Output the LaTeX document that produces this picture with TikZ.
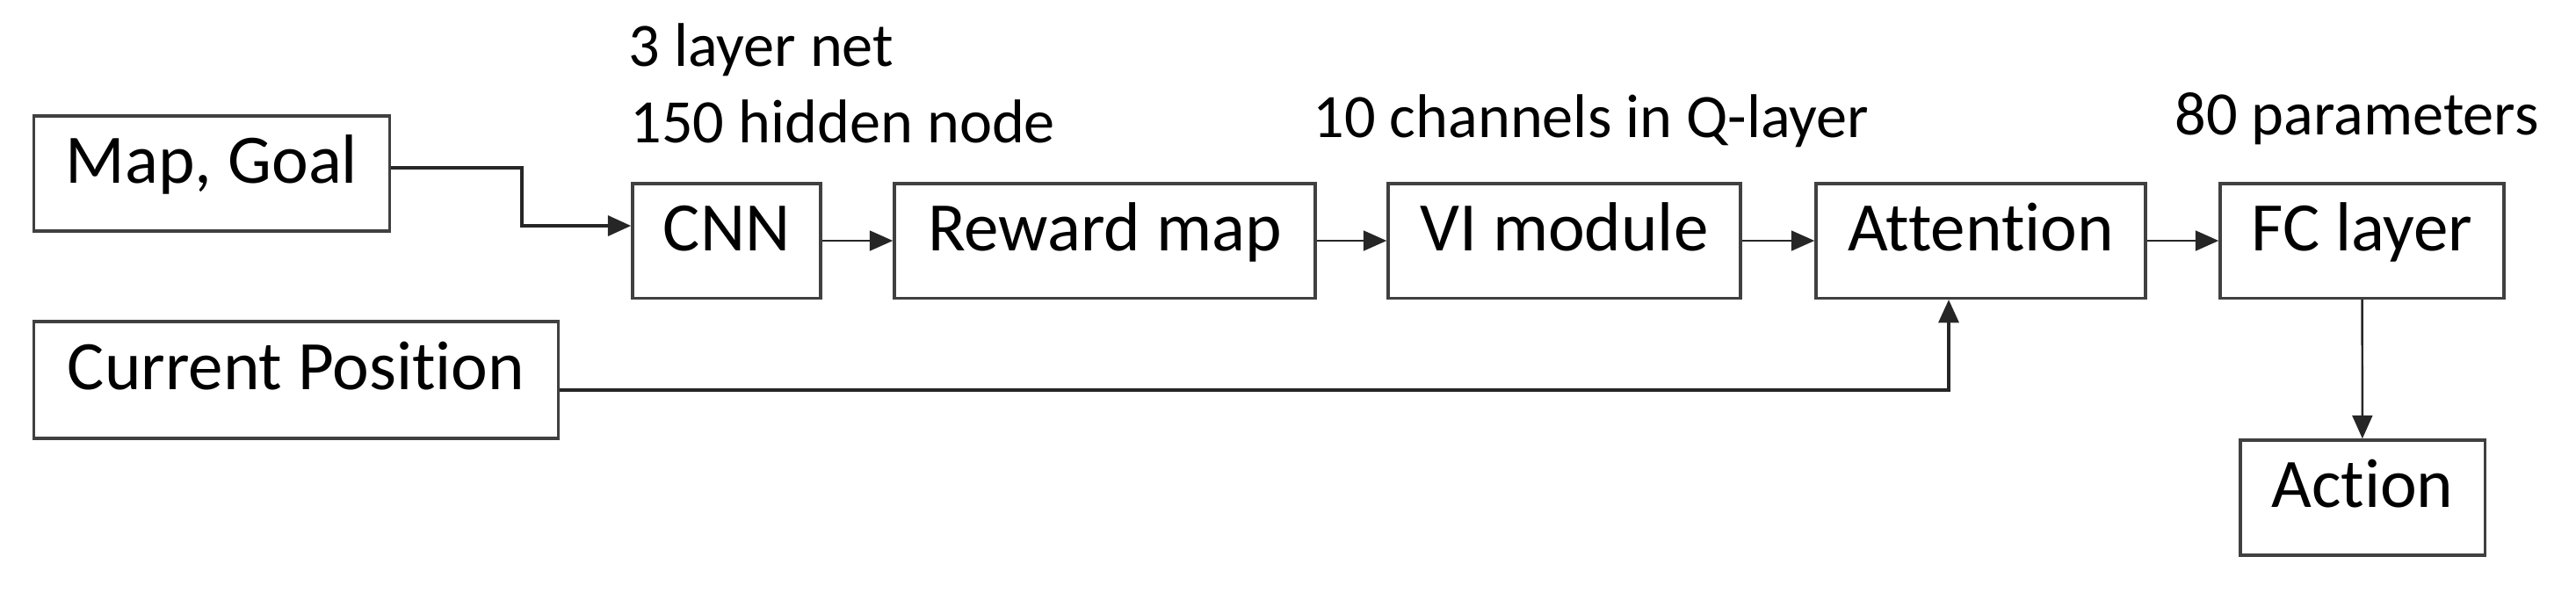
\documentclass[tikz,border=0pt]{standalone}
\usepackage{fontspec}
\setmainfont{Carlito}[Ligatures={NoCommon}]
\usetikzlibrary{arrows.meta}

\tikzset{
  block/.style={draw=black!75, line width=1pt, inner sep=0pt,
    minimum height=1.305cm, font=\fontsize{22.5}{27}\selectfont,
    text height=0.63em, text depth=0pt},
  note/.style={inner sep=0pt, anchor=base west, font=\fontsize{20}{24}\selectfont},
  link/.style={-{Triangle[length=7.5pt,width=6.5pt]}, line width=0.7pt, black!85},
  thicklink/.style={link, line width=1.1pt},
}

\begin{document}
\begin{tikzpicture}
  \useasboundingbox (0,0) rectangle (29.32,-6.74);
  % Inputs
  \node[block, minimum width=4.05cm, minimum height=1.31cm] (mapgoal) at (2.41,-1.975) {Map, Goal};
  \node[block, minimum width=5.97cm, minimum height=1.33cm] (curpos) at (3.37,-4.325) {Current Position};
  % Main row
  \foreach \name/\x/\w/\txt in {cnn/8.27/2.14cm/CNN, reward/12.575/4.79cm/Reward map,
      vi/17.805/4.01cm/VI module, attn/22.545/3.75cm/Attention, fc/26.885/3.23cm/FC layer} {
    \node[block, minimum width=\w] (\name) at (\x,-2.74) {\txt};
  }
  \node[block, minimum width=2.785cm, minimum height=1.31cm] (action) at (26.89,-5.665) {Action};
  % Notes
  \node[note] (cnnnote) at (7.15,-0.75) {3 layer net};
  \node[note] (cnnnote2) at (7.17,-1.62) {150 hidden node};
  \node[note] (vinote) at (14.94,-1.56) {10 channels in Q-layer};
  \node[note] (fcnote) at (24.75,-1.53) {80 parameters};
  % Connections
  \foreach \a/\b in {cnn/reward, reward/vi, vi/attn, attn/fc} {
    \draw[link] (\a) -- (\b);
  }
  \draw[thicklink] ([yshift=0.65mm]mapgoal.east) -- ++(1.49,0) |- ([yshift=1.7mm]cnn.west);
  \draw[thicklink] ([yshift=-1.15mm]curpos.east) -| ([xshift=-3.65mm]attn.south);
  \draw[link] (fc) -- (action);
\end{tikzpicture}
\end{document}
